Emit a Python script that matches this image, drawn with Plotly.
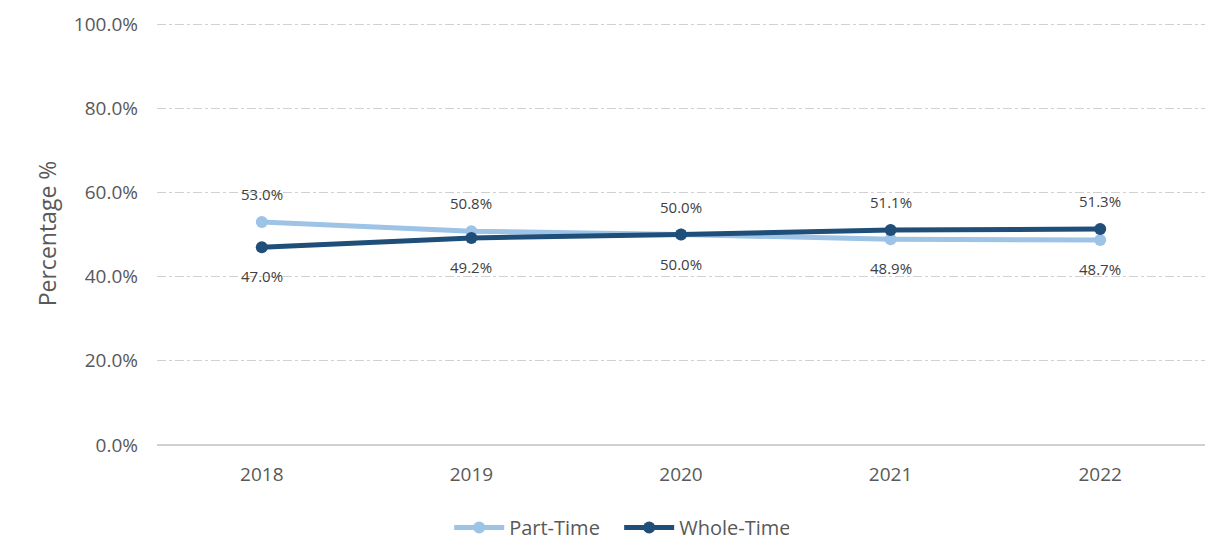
import plotly.graph_objects as go

years = ["2018", "2019", "2020", "2021", "2022"]
part_time = [53.0, 50.8, 50.0, 48.9, 48.7]
whole_time = [47.0, 49.2, 50.0, 51.1, 51.3]
y_ticks = [0, 20, 40, 60, 80, 100]
y_tick_labels = ["0.0%", "20.0%", "40.0%", "60.0%", "80.0%", "100.0%"]

LIGHT = "#9DC3E6"
DARK = "#1F4E79"
TXT = "#595959"
FONT = "Open Sans"

fig = go.Figure()
fig.add_trace(go.Scatter(x=years, y=part_time, name="Part-Time", mode="lines+markers",
                         line=dict(color=LIGHT, width=5), marker=dict(size=12, color=LIGHT)))
fig.add_trace(go.Scatter(x=years, y=whole_time, name="Whole-Time", mode="lines+markers",
                         line=dict(color=DARK, width=5), marker=dict(size=12, color=DARK)))

# data labels: annotations placed at each category index
for i, yr in enumerate(years):
    p, w = part_time[i], whole_time[i]
    p_above = p >= w
    fig.add_annotation(x=i, y=p, text=f"{p:.1f}%", showarrow=False,
                       yshift=28 if p_above else -29,
                       font=dict(family=FONT, size=15, color="#404040"))
    fig.add_annotation(x=i, y=w, text=f"{w:.1f}%", showarrow=False,
                       yshift=-29 if p_above else 28,
                       font=dict(family=FONT, size=15, color="#404040"))

fig.update_layout(
    width=1208, height=542,
    margin=dict(l=157, r=3, t=22, b=97, autoexpand=False),
    plot_bgcolor="white", paper_bgcolor="white",
    font=dict(family=FONT, color=TXT),
    showlegend=True,
    legend=dict(orientation="h", x=0.441, xanchor="center", y=-0.195, yanchor="middle",
                itemwidth=50, entrywidth=105, entrywidthmode="pixels",
                font=dict(family=FONT, size=20, color=TXT)),
    xaxis=dict(type="category", range=[-0.5, len(years) - 0.5], showgrid=False, ticks="",
               tickfont=dict(size=19, color=TXT), showline=False, ticklabelstandoff=16),
    yaxis=dict(range=[0, 100.5], tickvals=y_ticks, ticktext=y_tick_labels,
               tickfont=dict(size=19, color=TXT), showgrid=True, gridcolor="#D0D0D0",
               griddash="dashdot", gridwidth=1, zeroline=True, zerolinecolor="#D0D0D0",
               zerolinewidth=1.5, ticklabelstandoff=18,
               title=dict(text="Percentage %", font=dict(size=23, color=TXT), standoff=10)),
)

fig.write_html("out.html")
